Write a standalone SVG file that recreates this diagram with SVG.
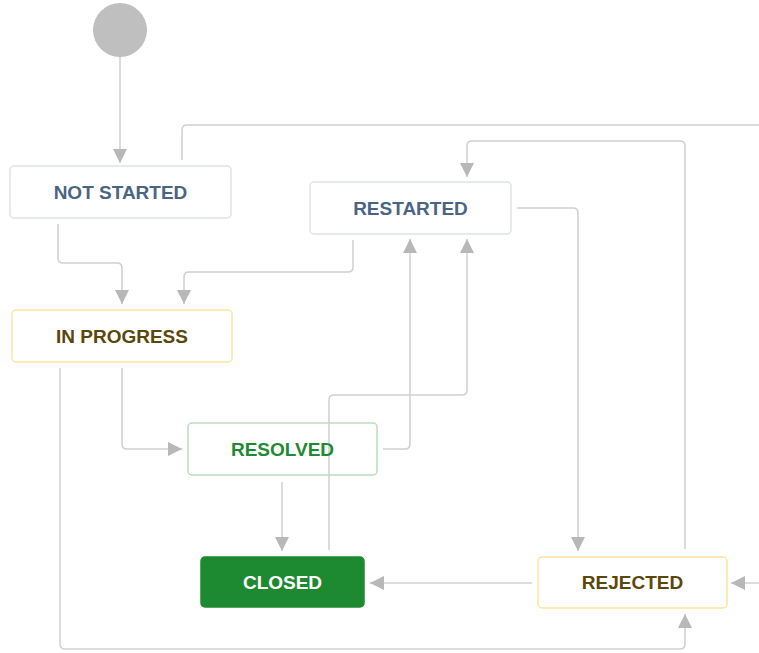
<svg xmlns="http://www.w3.org/2000/svg" width="759" height="653" viewBox="0 0 759 653">
  <style>
    .edge { fill: none; stroke: #d0d0d0; stroke-width: 1.5; }
    .box { stroke-width: 1.5; }
    .todo { fill: none; stroke: #dfe3e8; }
    .wip { fill: none; stroke: #fde4a0; }
    .resolved { fill: none; stroke: #b9debf; }
    .done { fill: #1d8a32; stroke: #1d8a32; }
    .label { font-family: "Liberation Sans", Arial, sans-serif; font-weight: bold; font-size: 19px; text-anchor: middle; }
    .t-todo { fill: #4a6584; }
    .t-wip { fill: #5a470a; }
    .t-resolved { fill: #1e8a33; }
    .t-done { fill: #ffffff; }
  </style>
  <defs>
    <marker id="arrow" markerUnits="userSpaceOnUse" markerWidth="14" markerHeight="14" viewBox="0 0 12 12" refX="12" refY="6" orient="auto">
      <path d="M0 0 L12 6 L0 12 Z" fill="#b8b8b8"/>
    </marker>
  </defs>
  <rect width="759" height="653" fill="#ffffff"/>

  <g id="connectors">
    <path class="edge" d="M120 57 V163" marker-end="url(#arrow)"/>
    <path class="edge" d="M58 224 V258 Q58 263 63 263 H117 Q122 263 122 268 V304" marker-end="url(#arrow)"/>
    <path class="edge" d="M353 240 V267 Q353 272 348 272 H189 Q184 272 184 277 V304" marker-end="url(#arrow)"/>
    <path class="edge" d="M182 160 V130 Q182 125 187 125 H759"/>
    <path class="edge" d="M685 549 V146 Q685 141 680 141 H472 Q467 141 467 146 V177" marker-end="url(#arrow)"/>
    <path class="edge" d="M517 208 H573 Q578 208 578 213 V551" marker-end="url(#arrow)"/>
    <path class="edge" d="M122 368 V444 Q122 449 127 449 H182" marker-end="url(#arrow)"/>
    <path class="edge" d="M383 449 H405 Q410 449 410 444 V239" marker-end="url(#arrow)"/>
    <path class="edge" d="M329 550 V400 Q329 395 334 395 H462 Q467 395 467 390 V239" marker-end="url(#arrow)"/>
    <path class="edge" d="M282 482 V551" marker-end="url(#arrow)"/>
    <path class="edge" d="M532 583 H370" marker-end="url(#arrow)"/>
    <path class="edge" d="M60 368 V644 Q60 649 65 649 H680 Q685 649 685 644 V614" marker-end="url(#arrow)"/>
    <path class="edge" d="M759 583 H731" marker-end="url(#arrow)"/>
  </g>

  <g id="start">
    <circle cx="120" cy="30" r="27" fill="#bfbfbf"/>
  </g>

  <g id="not-started">
    <rect class="box todo" x="10" y="166" width="221" height="52" rx="4"/>
    <text class="label t-todo" x="120.5" y="199">NOT STARTED</text>
  </g>

  <g id="restarted">
    <rect class="box todo" x="310" y="182" width="201" height="52" rx="4"/>
    <text class="label t-todo" x="410.5" y="215">RESTARTED</text>
  </g>

  <g id="in-progress">
    <rect class="box wip" x="12" y="310" width="220" height="52" rx="4"/>
    <text class="label t-wip" x="122" y="343">IN PROGRESS</text>
  </g>

  <g id="resolved">
    <rect class="box resolved" x="188" y="423" width="189" height="52" rx="4"/>
    <text class="label t-resolved" x="282.5" y="456">RESOLVED</text>
  </g>

  <g id="closed">
    <rect class="box done" x="201" y="557" width="163" height="50" rx="4"/>
    <text class="label t-done" x="282.5" y="589">CLOSED</text>
  </g>

  <g id="rejected">
    <rect class="box wip" x="538" y="557" width="189" height="51" rx="4"/>
    <text class="label t-wip" x="632.5" y="589">REJECTED</text>
  </g>
</svg>
